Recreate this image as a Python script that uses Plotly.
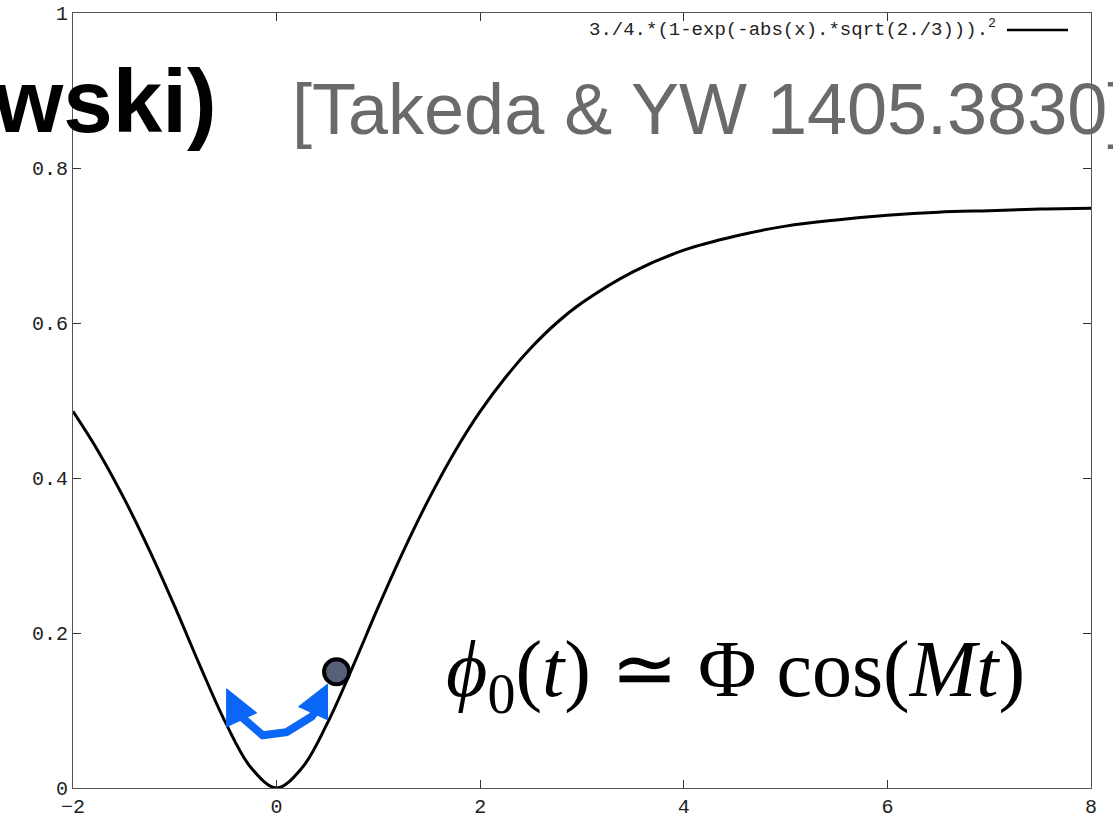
import plotly.graph_objects as go

# ---- data ----
curve_x = [-2.0, -1.75, -1.5, -1.25, -1.0, -0.75, -0.5, -0.25, 0.0,
           0.25, 0.5, 0.75, 1.0, 1.25, 1.5, 1.75, 2.0, 2.25, 2.5, 2.75,
           3.0, 3.5, 4.0, 4.5, 5.0, 5.5, 6.0, 6.5, 7.0, 7.5, 8.0]
curve_y = [0.486, 0.434, 0.374, 0.307, 0.234, 0.157, 0.084, 0.026, 0.0,
           0.026, 0.084, 0.157, 0.234, 0.307, 0.374, 0.434, 0.486, 0.530, 0.568, 0.600,
           0.626, 0.666, 0.694, 0.712, 0.725, 0.733, 0.739, 0.743, 0.745, 0.747, 0.748]
curve_name = "3./4.*(1-exp(-abs(x).*sqrt(2./3)))."

ball_x = [0.589]
ball_y = [0.150]

arrow_shaft_x = [-0.40, -0.137, 0.098, 0.343, 0.47]
arrow_shaft_y = [0.098, 0.068, 0.072, 0.092, 0.113]
arrow_left_x = [-0.491, -0.196, -0.491]
arrow_left_y = [0.128, 0.097, 0.079]
arrow_right_x = [0.500, 0.216, 0.500]
arrow_right_y = [0.134, 0.105, 0.088]

x_ticks = [-2, 0, 2, 4, 6, 8]
y_ticks = [0, 0.2, 0.4, 0.6, 0.8, 1]
y_tick_text = ["0", "0.2", "0.4", "0.6", "0.8", "1"]

title_left = "wski)"
title_right = "[Takeda &amp; YW 1405.3830]"
formula = "<i>ϕ</i><sub>0</sub>(<i>t</i>) ≃ Φ cos(<i>Mt</i>)"

W, H = 1113, 816
L, R, T, B = 73, 22, 13, 28
PW, PH = W - L - R, H - T - B


def px(xp):
    return (xp - L) / PW


def py(yp):
    return (H - B - yp) / PH


blue = "#0a66f7"

fig = go.Figure()
fig.add_trace(go.Scatter(x=curve_x, y=curve_y, mode="lines",
                         line=dict(color="black", width=3, shape="spline", smoothing=1.0),
                         name=curve_name, showlegend=False, hoverinfo="skip"))
fig.add_trace(go.Scatter(x=arrow_shaft_x, y=arrow_shaft_y, mode="lines",
                         line=dict(color=blue, width=8), showlegend=False, hoverinfo="skip"))
for ax_, ay_ in [(arrow_left_x, arrow_left_y), (arrow_right_x, arrow_right_y)]:
    fig.add_trace(go.Scatter(x=ax_ + ax_[:1], y=ay_ + ay_[:1], mode="lines", fill="toself",
                             fillcolor=blue, line=dict(color=blue, width=1),
                             showlegend=False, hoverinfo="skip"))
fig.add_trace(go.Scatter(x=ball_x, y=ball_y, mode="markers",
                         marker=dict(size=25, color="#566079", line=dict(color="black", width=4)),
                         showlegend=False, hoverinfo="skip"))

axis_common = dict(showgrid=False, zeroline=False, showline=True, mirror="allticks",
                   linecolor="#555", linewidth=1, ticks="inside", ticklen=8,
                   tickcolor="#333", tickwidth=1, automargin=False,
                   tickfont=dict(family="Liberation Mono", size=20, color="#222"))

fig.update_xaxes(range=[-2, 8], tickvals=x_ticks, ticktext=[str(v) if v >= 0 else "−" + str(-v) for v in x_ticks],
                 **axis_common)
fig.update_yaxes(range=[0, 1], tickvals=y_ticks, ticktext=y_tick_text, **axis_common)

annotations = [
    dict(text=f"<b>{title_left}</b>", xref="paper", yref="paper", x=px(219), y=py(101),
         xanchor="right", yanchor="middle", showarrow=False,
         font=dict(family="Liberation Sans", size=89, color="black")),
    dict(text=title_right, xref="paper", yref="paper", x=px(290), y=py(109),
         xanchor="left", yanchor="middle", showarrow=False,
         font=dict(family="Liberation Sans", size=72, color="#6a6a6a")),
    dict(text=formula, xref="paper", yref="paper", x=px(735), y=py(675),
         xanchor="center", yanchor="middle", showarrow=False,
         font=dict(family="Liberation Serif", size=80, color="black")),
    dict(text=curve_name + "<sup>2</sup>", xref="paper", yref="paper", x=px(587), y=py(29),
         xanchor="left", yanchor="middle", showarrow=False,
         font=dict(family="Liberation Mono", size=19, color="#222")),
]

shapes = [dict(type="line", xref="paper", yref="paper", x0=px(1007), x1=px(1068),
               y0=py(30), y1=py(30), line=dict(color="black", width=2.5))]

fig.update_layout(width=W, height=H, autosize=False,
                  margin=dict(l=L, r=R, t=T, b=B, autoexpand=False),
                  paper_bgcolor="white", plot_bgcolor="white",
                  annotations=annotations, shapes=shapes, showlegend=False)

fig.write_html("out.html", config={"displayModeBar": False},
               post_script="document.body.style.margin='0';document.body.style.overflow='hidden';")
